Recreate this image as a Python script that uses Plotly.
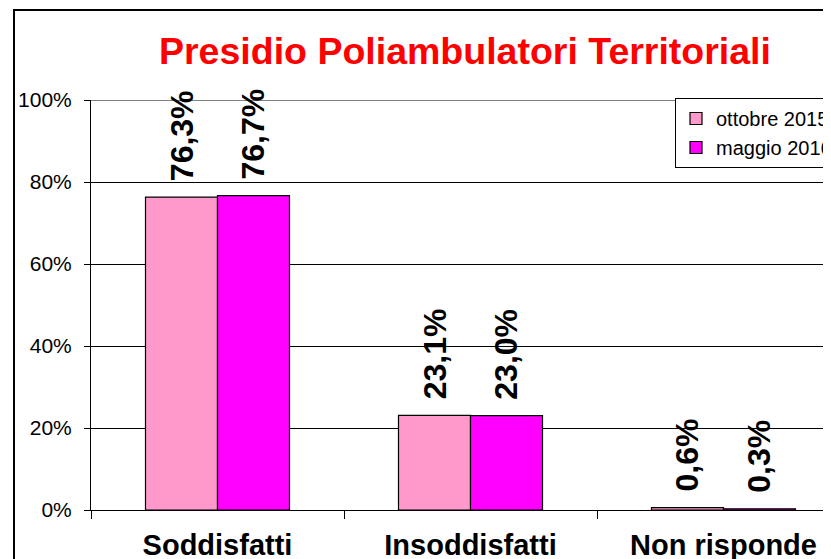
import plotly.graph_objects as go

categories = ["Soddisfatti", "Insoddisfatti", "Non risponde"]
series_names = ["ottobre 2015", "maggio 2016"]
values_ott2015 = [76.3, 23.1, 0.6]
values_mag2016 = [76.7, 23.0, 0.3]
colors = ["#FF99CC", "#FF00FF"]
y_ticks = [0, 20, 40, 60, 80, 100]
y_tick_labels = ["0%", "20%", "40%", "60%", "80%", "100%"]
title_text = "Presidio Poliambulatori Territoriali"

FONT = "Arial, Liberation Sans, sans-serif"

# the page body has an 8px default margin: the figure is drawn 8px in from the corner
OFF = 8
W, H = 831 - OFF, 559 - OFF
ML, MT, MB, MR = 91 - OFF, 100 - OFF, 49, 0
PW = W - ML - MR
PH = H - MT - MB
CAT_PX = 253.0
BAR_PX = 72.0
bargap = 1 - 2 * BAR_PX / CAT_PX
xmax = -0.5 + PW / CAT_PX

def fmt(v):
    return f"{v:.1f}".replace(".", ",") + "%"

fig = go.Figure()
all_series = [values_ott2015, values_mag2016]
for name, vals, col in zip(series_names, all_series, colors):
    fig.add_trace(go.Bar(
        x=categories, y=vals, name=name,
        marker=dict(color=col, line=dict(color="black", width=1.2)),
        cliponaxis=False,
    ))

# data labels
for i, vals in enumerate(all_series):
    shift = (i - 0.5) * BAR_PX
    for c, v in zip(categories, vals):
        fig.add_annotation(
            x=c, y=v, xref="x", yref="y", text="<b>" + fmt(v) + "</b>",
            showarrow=False, textangle=-90, xanchor="center", yanchor="bottom",
            xshift=shift, yshift=14,
            font=dict(family=FONT, size=32, color="black"),
        )

# outer chart border (extends past visible area)
fig.add_shape(type="rect", xref="paper", yref="paper",
              x0=(14 - OFF - ML) / PW, x1=1.2, y0=-0.3, y1=(H - MB - (10 - OFF)) / PH,
              line=dict(color="black", width=2), fillcolor="rgba(0,0,0,0)", layer="below")
# top plot border (gray)
fig.add_shape(type="line", xref="paper", yref="y", x0=0, x1=1.05, y0=100, y1=100,
              line=dict(color="#808080", width=2))

fig.update_layout(
    width=W, height=H,
    margin=dict(l=ML, r=MR, t=MT, b=MB, autoexpand=False),
    paper_bgcolor="white", plot_bgcolor="white",
    barmode="group", bargap=bargap, bargroupgap=0,
    font=dict(family=FONT, color="black"),
    title=dict(text="<b>" + title_text + "</b>", x=(465 - OFF) / W, xanchor="center",
               y=1 - (51 - OFF) / H, yanchor="middle", yref="container", xref="container",
               font=dict(family=FONT, size=37.5, color="#FF0000")),
    xaxis=dict(range=[-0.5, xmax], showline=True, linecolor="black", linewidth=1,
               ticks="outside", tickson="boundaries", ticklen=8, tickcolor="black",
               tickfont=dict(family=FONT, size=29, color="black"),
               tickvals=categories, ticktext=["<b>" + c + "</b>" for c in categories],
               ticklabelstandoff=9, showgrid=False, zeroline=False, fixedrange=True),
    yaxis=dict(range=[0, 100], tickmode="array", tickvals=y_ticks, ticktext=y_tick_labels,
               showline=True, linecolor="black", linewidth=1, ticks="outside", ticklen=6,
               tickcolor="black", showgrid=True, gridcolor="black", gridwidth=1,
               zeroline=False, tickfont=dict(family=FONT, size=21, color="black"),
               ticklabelstandoff=8, fixedrange=True),
    legend=dict(x=(675 - OFF - ML) / PW, y=(H - MB - (98 - OFF)) / PH,
                xanchor="left", yanchor="top",
                bgcolor="white", bordercolor="black", borderwidth=1,
                font=dict(family=FONT, size=20, color="black"), itemclick=False),
    showlegend=True,
)

fig.write_html("out.html")
